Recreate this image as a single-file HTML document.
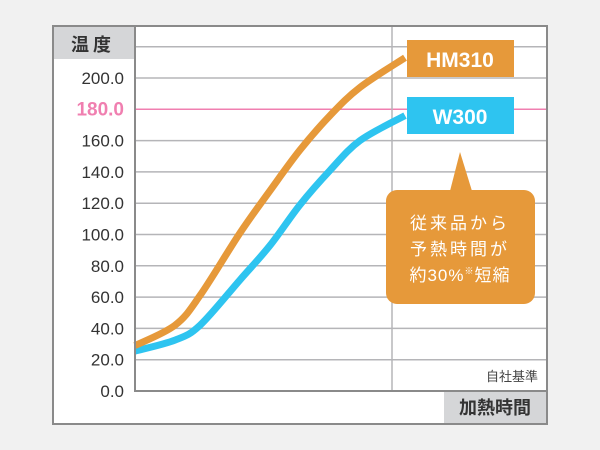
<!DOCTYPE html>
<html><head><meta charset="utf-8"><style>
body{margin:0;background:#f1f1f1;}
svg{display:block;font-family:"Liberation Sans","Noto Sans CJK JP",sans-serif;}
</style></head><body>
<svg width="600" height="450">
<rect x="53" y="26" width="494" height="398" fill="#fff" stroke="#8a8a8a" stroke-width="2"/>
<rect x="54" y="27" width="80" height="32" fill="#d5d6d8"/>
<text x="93" y="51" text-anchor="middle" font-size="18" font-weight="bold" fill="#333" letter-spacing="4">温度</text>
<g id="grid"></g>
<line x1="392" y1="27" x2="392" y2="391" stroke="#b5b5b8" stroke-width="1.5"/>
<g id="yticks"></g>
<g id="series"></g>
<line x1="135" y1="27" x2="135" y2="392" stroke="#8a8a8a" stroke-width="2"/>
<line x1="134" y1="391" x2="547" y2="391" stroke="#8a8a8a" stroke-width="2"/>
<rect x="444" y="392" width="102" height="31" fill="#d5d6d8"/>
<text x="495" y="414" text-anchor="middle" font-size="18" font-weight="bold" fill="#333">加熱時間</text>
<text x="538" y="381" text-anchor="end" font-size="13" fill="#444">自社基準</text>
<rect x="407" y="40" width="107" height="37" fill="#e6993a"/>
<text x="460" y="67" text-anchor="middle" font-size="21" font-weight="bold" fill="#fff">HM310</text>
<rect x="407" y="97" width="107" height="37" fill="#2ec4f0"/>
<text x="460" y="124" text-anchor="middle" font-size="21" font-weight="bold" fill="#fff">W300</text>
<g>
<polygon points="460,152 450,191 472,191" fill="#e6993a"/>
<rect x="386" y="190" width="149" height="114" rx="11" fill="#e6993a"/>
<text x="460" y="229" text-anchor="middle" font-size="17" fill="#fff" letter-spacing="3">従来品から</text>
<text x="460" y="255" text-anchor="middle" font-size="17" fill="#fff" letter-spacing="3">予熱時間が</text>
<text x="460" y="281" text-anchor="middle" font-size="17" fill="#fff" letter-spacing="1">約30%<tspan font-size="9" dy="-7">※</tspan><tspan dy="7">短縮</tspan></text>
</g>
</svg>
<script>
const yTicks=[0,20,40,60,80,100,120,140,160,180,200,220];
const yLabels=["0.0","20.0","40.0","60.0","80.0","100.0","120.0","140.0","160.0","180.0","200.0"];
const timeX=[0,40,65,105,135,165,195,225,270];
const hm310=[29,42,61,101,128,154,176,194,213];
const w300=[25.5,32.5,42,71,93,119,141,160,176];
const refLine=180;
const X=t=>135+t; const Y=v=>391-v*313/200;
const svg=document.querySelector('svg'),NS='http://www.w3.org/2000/svg';
const grid=document.getElementById('grid'),yt=document.getElementById('yticks'),ser=document.getElementById('series');
function mk(tag,attrs,parent){const e=document.createElementNS(NS,tag);for(const k in attrs)e.setAttribute(k,attrs[k]);parent.appendChild(e);return e;}
yTicks.forEach(v=>{if(v===0)return;const l=mk('line',{x1:135,x2:546,y1:Y(v),y2:Y(v),stroke:v===refLine?'#f07fb0':'#b5b5b8','stroke-width':1.5},grid);

});
yLabels.forEach((s,i)=>{const v=yTicks[i];const t=mk('text',{x:124,y:Y(v)+6,'text-anchor':'end','font-size':v===refLine?19:17,fill:v===refLine?'#f07fb0':'#333','font-weight':v===refLine?'bold':'normal'},yt);t.textContent=s;

});
function path(vals){const p=timeX.map((t,i)=>[X(t),Y(vals[i])]);let d='M'+p[0];for(let i=0;i<p.length-1;i++){const a=p[i-1]||p[i],b=p[i],c=p[i+1],e=p[i+2]||c;
d+=' C'+(b[0]+(c[0]-a[0])/6)+','+(b[1]+(c[1]-a[1])/6)+' '+(c[0]-(e[0]-b[0])/6)+','+(c[1]-(e[1]-b[1])/6)+' '+c;}return d;}
const l1=mk('path',{d:path(w300),fill:'none',stroke:'#2ec4f0','stroke-width':7},ser);


const l2=mk('path',{d:path(hm310),fill:'none',stroke:'#e6993a','stroke-width':7},ser);


</script>
</body></html>
